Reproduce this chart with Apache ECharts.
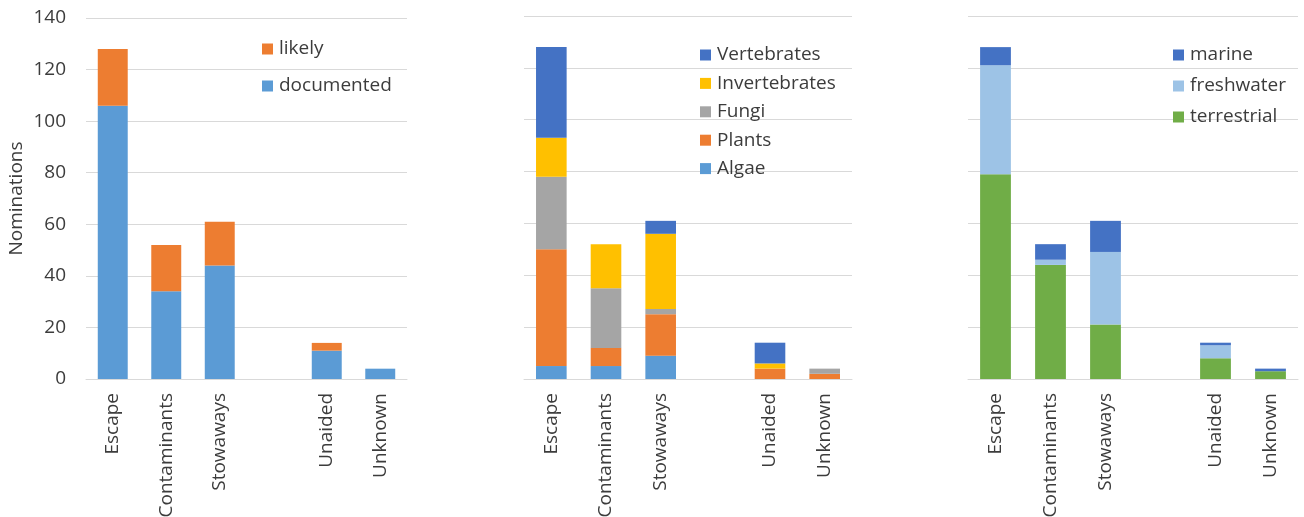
<!DOCTYPE html>
<html>
<head>
<meta charset="utf-8">
<script src="https://cdn.jsdelivr.net/npm/echarts@6/dist/echarts.min.js"></script>
<style>html,body{margin:0;padding:0;background:#fff}#c{width:1304px;height:517px}</style>
</head>
<body>
<div id="c"></div>
<script>
const categories = ['Escape', 'Contaminants', 'Stowaways', '', 'Unaided', 'Unknown'];
const yTicks = [0, 20, 40, 60, 80, 100, 120, 140];

// Panel 1: evidence
const documented = [106, 34, 44, null, 11, 4];
const likely = [22, 18, 17, null, 3, 0];

// Panel 2: taxonomic group
const algae = [5, 5, 9, null, 0, 0];
const plants = [45, 7, 16, null, 4, 2];
const fungi = [28, 23, 2, null, 0, 2];
const invertebrates = [15, 17, 29, null, 2, 0];
const vertebrates = [35, 0, 5, null, 8, 0];

// Panel 3: habitat
const terrestrial = [79, 44, 21, null, 8, 3];
const freshwater = [42, 2, 28, null, 5, 0];
const marine = [7, 6, 12, null, 1, 1];

const FONT = 'Open Sans';
const TXT = '#3c3c3c';
const GRIDC = '#d9d9d9';

const grids = [
  {left: 86, top: 18, width: 321, height: 361, outerBoundsMode: 'none', containLabel: false},
  {left: 524, top: 16, width: 328, height: 363, outerBoundsMode: 'none', containLabel: false},
  {left: 968, top: 16, width: 330, height: 363, outerBoundsMode: 'none', containLabel: false}
];

function xAxis(i) {
  return {
    type: 'category', gridIndex: i, data: categories,
    axisLine: {lineStyle: {color: GRIDC, width: 1}},
    axisTick: {show: false},
    axisLabel: {rotate: 90, margin: 14, color: TXT, fontFamily: FONT, fontSize: 19, interval: 0}
  };
}
function yAxis(i, showLabel) {
  return {
    type: 'value', gridIndex: i, min: 0, max: 140, interval: 20,
    name: i === 0 ? 'Nominations' : '',
    nameLocation: 'middle', nameGap: 60, nameRotate: 90,
    nameTextStyle: {color: TXT, fontFamily: FONT, fontSize: 19},
    axisLine: {show: false}, axisTick: {show: false},
    axisLabel: {show: showLabel, color: TXT, fontFamily: FONT, fontSize: 19, margin: 20,
      formatter: v => yTicks.includes(v) ? String(v) : ''},
    splitLine: {lineStyle: {color: GRIDC, width: 1}}
  };
}
function bar(name, data, color, i) {
  return {
    name, type: 'bar', stack: 's' + i, xAxisIndex: i, yAxisIndex: i,
    data, barWidth: '56%', itemStyle: {color}, emphasis: {disabled: true}
  };
}
function legend(names, left, top, gap) {
  return {
    orient: 'vertical', left, top, data: names, itemWidth: 11, itemHeight: 11,
    itemGap: gap, icon: 'rect', selectedMode: false,
    textStyle: {color: TXT, fontFamily: FONT, fontSize: 19, lineHeight: 22, padding: [0, 0, 0, 1]}
  };
}

const chart = echarts.init(document.getElementById('c'), null, {renderer: 'canvas'});
chart.setOption({
  animation: false,
  backgroundColor: '#fff',
  grid: grids,
  xAxis: [xAxis(0), xAxis(1), xAxis(2)],
  yAxis: [yAxis(0, true), yAxis(1, false), yAxis(2, false)],
  legend: [
    legend(['likely', 'documented'], 257, 33, 15),
    legend(['Vertebrates', 'Invertebrates', 'Fungi', 'Plants', 'Algae'], 695, 39, 6.4),
    legend(['marine', 'freshwater', 'terrestrial'], 1168, 39, 9)
  ],
  series: [
    bar('documented', documented, '#5B9BD5', 0),
    bar('likely', likely, '#ED7D31', 0),
    bar('Algae', algae, '#5B9BD5', 1),
    bar('Plants', plants, '#ED7D31', 1),
    bar('Fungi', fungi, '#A5A5A5', 1),
    bar('Invertebrates', invertebrates, '#FFC000', 1),
    bar('Vertebrates', vertebrates, '#4472C4', 1),
    bar('terrestrial', terrestrial, '#70AD47', 2),
    bar('freshwater', freshwater, '#9DC3E6', 2),
    bar('marine', marine, '#4472C4', 2)
  ]
});
</script>
</body>
</html>
